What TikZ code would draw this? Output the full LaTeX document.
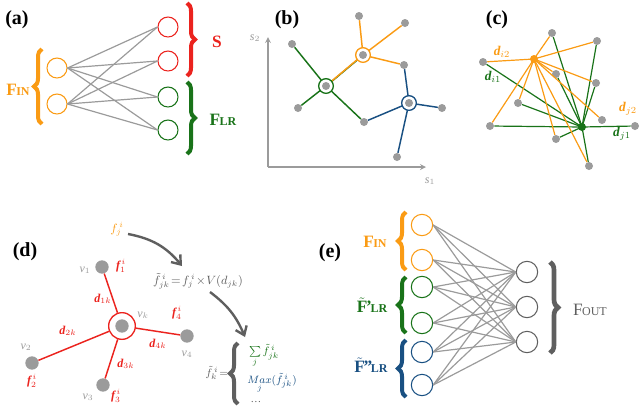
\documentclass[tikz,border=0pt]{standalone}
\usepackage{fontspec}
\setmainfont{Liberation Serif}
\usepackage{amsmath}
\usetikzlibrary{decorations.pathreplacing,arrows.meta}
\definecolor{cor}{RGB}{250,155,20}
\definecolor{cre}{RGB}{235,35,30}
\definecolor{cgr}{RGB}{25,115,25}
\definecolor{cbl}{RGB}{25,80,130}
\definecolor{cgy}{RGB}{155,155,155}
\definecolor{cdg}{RGB}{95,95,95}
\tikzset{
  panel/.style={font=\fontsize{15}{15}\selectfont\bfseries},
  neu/.style={circle,draw=#1,line width=0.8pt,minimum size=15pt,inner sep=0pt},
  dot/.style={circle,fill=cgy,minimum size=6pt,inner sep=0pt},
  ring/.style={circle,draw=#1,line width=1pt,minimum size=11pt,inner sep=0pt},
  hubd/.style={circle,fill=#1,minimum size=6pt,inner sep=0pt},
  syn/.style={cgy,line width=0.9pt},
  br/.style={decorate,decoration={brace,amplitude=6pt},line width=3pt,draw=#1},
  blbl/.style={font=\fontsize{13}{13}\selectfont\bfseries,text=#1},
  edge/.style={line width=1.1pt,draw=#1},
  dl/.style={font=\fontsize{10}{10}\selectfont\itshape\bfseries,text=#1},
}
\newcommand{\Fsub}[1]{F\kern-0.5pt{\fontsize{9}{9}\selectfont #1}}
\begin{document}
\begin{tikzpicture}[x=0.75pt,y=-0.75pt]
\useasboundingbox (0,0) rectangle (640,408);
% ---------- (a)
\node[panel] (la) at (17,20) {(a)};
\node[neu=cor] (a1) at (57,68) {};
\node[neu=cor] (a2) at (57,104) {};
\node[neu=cre] (b1) at (168,27) {};
\node[neu=cre] (b2) at (168,61) {};
\node[neu=cgr] (b3) at (168,97) {};
\node[neu=cgr] (b4) at (168,130) {};
\foreach \i in {a1,a2} \foreach \j in {b1,b2,b3,b4} \draw[syn] (\i.east) -- (\j.west);
\draw[br=cor] (42,124) -- (42,49);
\draw[br=cre] (187,3) -- (187,76);
\draw[br=cgr] (187,82) -- (187,154);
\node[blbl=cor] (fin) at (18,90) {\Fsub{IN}};
\node[blbl=cre] (s) at (217,42) {S};
\node[blbl=cgr] (flr) at (223,120) {\Fsub{LR}};
% ---------- (b)
\node[panel] (lb) at (287,20) {(b)};
\coordinate (o) at (268,167);
\coordinate (yt) at (268,37);
\coordinate (xt) at (426,167);
\draw[cgy,line width=1pt,->,>=stealth] (o) -- (yt);
\draw[cgy,line width=1pt,->,>=stealth] (o) -- (xt);
\node[text=cgy,font=\itshape\small] (s2) at (255,38) {s$_2$};
\node[text=cgy,font=\itshape\small] (s1) at (430,181) {s$_1$};
\node[dot] (g) at (326,86) {};
\node[dot] (og) at (363,55) {};
\node[dot] (bh) at (409,103) {};
\node[dot] (p1) at (292,44) {};
\node[dot] (p2) at (298,108) {};
\node[dot] (p3) at (364,122) {};
\node[dot] (p4) at (359,16) {};
\node[dot] (p5) at (405,23) {};
\node[dot] (p6) at (404,65) {};
\node[dot] (p7) at (442,108) {};
\node[dot] (p8) at (397,157) {};
\draw[edge=cgr] (g) -- (p1) (g) -- (p2) (g) -- (p3);
\draw[edge=cgr] ([xshift=-1pt,yshift=-1pt]g.center) -- ([xshift=-1pt,yshift=-1pt]og.center);
\draw[edge=cor] ([xshift=1pt,yshift=1pt]g.center) -- ([xshift=1pt,yshift=1pt]og.center);
\draw[edge=cor] (og) -- (p4) (og) -- (p5) (og) -- (p6);
\draw[edge=cbl] (bh) -- (p3) (bh) -- (p6) (bh) -- (p7) (bh) -- (p8);
\node[ring=cgr,fill=white] (gr) at (g) {};
\node[ring=cor,fill=white] (orr) at (og) {};
\node[ring=cbl,fill=white] (br) at (bh) {};
\node[dot] at (g) {};
\node[dot] at (og) {};
\node[dot] at (bh) {};
% ---------- (c)
\node[panel] (lc) at (497,20) {(c)};
\node[dot] (c1) at (552,33) {};
\node[dot] (c2) at (597,41) {};
\node[dot] (c3) at (483,62) {};
\node[dot] (c4) at (556,74) {};
\node[dot] (c5) at (596,83) {};
\node[dot] (c6) at (518,103) {};
\node[dot] (c7) at (602,120) {};
\node[dot] (c8) at (490,126) {};
\node[dot] (c9) at (635,126) {};
\node[dot] (c10) at (556,139) {};
\node[dot] (c11) at (589,166) {};
\coordinate (ci) at (534,59);
\coordinate (cj) at (582,127);
\foreach \k in {c1,c4,c3,c6,c8,c9,c10,c11,c5,c2} \draw[edge=cgr,line width=0.9pt] (cj) -- (\k);
\foreach \k in {c1,c2,c3,c4,c5,c7,c8,c10,c11,c6} \draw[edge=cor,line width=0.9pt] (ci) -- (\k);
\node[hubd=cor] (ih) at (ci) {};
\node[hubd=cgr] (jh) at (cj) {};
\node[dl=cor] (di2) at (502,52) {d$_{i2}$};
\node[dl=cgr] (di1) at (493,77) {d$_{i1}$};
\node[dl=cor] (dj2) at (628,109) {d$_{j2}$};
\node[dl=cgr] (dj1) at (622,134) {d$_{j1}$};
% ---------- (d)
\node[panel] (ld) at (25,252) {(d)};
\node[dot,minimum size=10pt] (vk) at (122,326) {};
\node[dot,minimum size=10pt] (v1) at (102,267) {};
\node[dot,minimum size=10pt] (v4) at (187,336) {};
\node[dot,minimum size=10pt] (v2) at (32,363) {};
\node[dot,minimum size=10pt] (v3) at (103,385) {};
\node[ring=cre,minimum size=20pt] (vkr) at (vk) {};
\foreach \k in {v1,v2,v3,v4} \draw[edge=cre] (vkr) -- (\k);
\tikzset{vl/.style={text=cgy,font=\itshape\small}, fl/.style={text=cre,font=\itshape\bfseries\small}}
\node[vl] (tv1) at (85,270) {v$_1$};
\node[fl] (tf1) at (121,266) {f$_1^{\,i}$};
\node[fl] (d1k) at (103,299) {d$_{1k}$};
\node[vl] (tvk) at (143,315) {v$_k$};
\node[fl] (tf4) at (177,313) {f$_4^{\,i}$};
\node[fl] (d4k) at (158,344) {d$_{4k}$};
\node[vl] (tv4) at (187,354) {v$_4$};
\node[fl] (d2k) at (68,331) {d$_{2k}$};
\node[vl] (tv2) at (26,347) {v$_2$};
\node[fl] (tf2) at (32,381) {f$_2^{\,i}$};
\node[fl] (d3k) at (126,364) {d$_{3k}$};
\node[vl] (tv3) at (88,397) {v$_3$};
\node[fl] (tf3) at (116,396) {f$_3^{\,i}$};
\node[text=cor,font=\small] (fj) at (117,229) {$f_j^{\,i}$};
\node[text=cdg,font=\small] (form) at (198,281) {$\tilde{f}_{jk}^{\,i}\!=\!f_j^{\,i}\!\times\! V(d_{jk})$};
\draw[cdg,line width=1.8pt,-{Straight Barb[length=6pt,width=9pt]}] (128,234) to[bend left=20] (182,266);
\draw[cdg,line width=1.8pt,-{Straight Barb[length=6pt,width=9pt]}] (210,292) to[bend left=15] (245,337);
\node[text=cdg,font=\footnotesize] (fk) at (217,373) {$\tilde{f}_k^{\,i}\!=$};
\draw[br=cdg] (238,404) -- (238,343);
\node[text=cgr,font=\footnotesize] (sum) at (264,356) {$\sum\limits_j \tilde{f}_{jk}^{\,i}$};
\node[text=cbl,font=\footnotesize] (max) at (272,383) {$\mathop{Max}\limits_j(\tilde{f}_{jk}^{\,i})$};
\node[text=cdg,font=\footnotesize] (dots) at (256,402) {\dots};
% ---------- (e)
\node[panel] (le) at (330,253) {(e)};
\tikzset{eneu/.style={neu=#1,minimum size=16pt}}
\node[eneu=cor] (e1) at (422,225) {};
\node[eneu=cor] (e2) at (422,260) {};
\node[eneu=cgr] (e3) at (422,287) {};
\node[eneu=cgr] (e4) at (422,323) {};
\node[eneu=cbl] (e5) at (422,352) {};
\node[eneu=cbl] (e6) at (422,385) {};
\node[eneu=cdg] (o1) at (527,272) {};
\node[eneu=cdg] (o2) at (527,307) {};
\node[eneu=cdg] (o3) at (527,342) {};
\foreach \i in {e1,e2,e3,e4,e5,e6} \foreach \j in {o1,o2,o3} \draw[syn] (\i.east) -- (\j.west);
\draw[br=cor] (406,270) -- (406,212);
\draw[br=cgr] (406,333) -- (406,277);
\draw[br=cbl] (406,397) -- (406,340);
\draw[br=cdg,line width=3.5pt] (550,262) -- (550,353);
\node[blbl=cor] (efin) at (375,242) {\Fsub{IN}};
\node[blbl=cgr] (eflr) at (372,305) {$\tilde{\text{F}}$\kern-1pt'\kern-1pt{\fontsize{9}{9}\selectfont LR}};
\node[blbl=cbl] (eflr2) at (371,365) {$\tilde{\text{F}}$\kern-1pt''\kern-1pt{\fontsize{9}{9}\selectfont LR}};
\node[blbl=cdg,font=\fontsize{13}{13}\selectfont] (fout) at (590,310) {\Fsub{OUT}};
\end{tikzpicture}
\end{document}
